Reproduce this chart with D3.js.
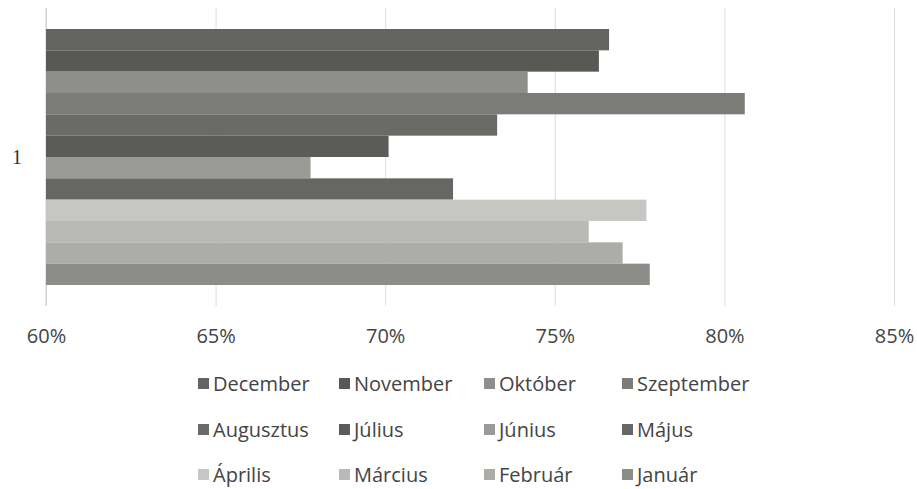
<!DOCTYPE html>
<html>
<head>
<meta charset="utf-8">
<script src="https://cdn.jsdelivr.net/npm/d3@7"></script>
<style>
  body { margin: 0; background: #fff; }
  svg { display: block; }
</style>
</head>
<body>
<svg id="chart" width="917" height="489"></svg>
<script>
// series top to bottom, same order as the legend
var months = ["December", "November", "Október", "Szeptember", "Augusztus", "Július",
              "Június", "Május", "Április", "Március", "Február", "Január"];
var values = [0.766, 0.763, 0.742, 0.806, 0.733, 0.701, 0.678, 0.720, 0.777, 0.760, 0.770, 0.778];
var colors = ["#646461", "#585855", "#8e8e8a", "#7b7b78", "#6a6a67", "#5b5b58",
              "#9a9a97", "#666663", "#c6c6c3", "#b9b9b6", "#acaca9", "#8c8c89"];
var categories = ["1"];
var xTicks = [0.60, 0.65, 0.70, 0.75, 0.80, 0.85];

var svg = d3.select("#chart"),
    margin = {top: 8, left: 46, right: 23, bottom: 183},
    width = 917 - margin.left - margin.right,
    height = 489 - margin.top - margin.bottom,
    g = svg.append("g").attr("transform", "translate(" + margin.left + "," + margin.top + ")");

var x = d3.scaleLinear().domain([0.60, 0.85]).range([0, width]);

var y0 = d3.scaleBand().domain(categories).range([0, height]).paddingInner(0).paddingOuter(0.082);
var y1 = d3.scaleBand().domain(months).range([0, y0.bandwidth()]).padding(0);

var color = d3.scaleOrdinal().domain(months).range(colors);

// gridlines + tick labels
var xAxis = g.append("g")
    .attr("transform", "translate(0," + height + ")")
    .call(d3.axisBottom(x).tickValues(xTicks).tickSize(-height).tickFormat(d3.format(".0%")));
xAxis.select(".domain").remove();
xAxis.selectAll("line").attr("stroke", "#dcdcdc");
xAxis.selectAll("text")
    .attr("dy", 0)
    .attr("y", 37)
    .attr("fill", "#444")
    .style("font-family", "'Open Sans', sans-serif")
    .style("font-size", "20px");

// left axis line
g.append("line")
    .attr("x1", 0).attr("x2", 0)
    .attr("y1", 0).attr("y2", height)
    .attr("stroke", "#cfcfcf");

// category label
g.selectAll(".cat")
    .data(categories)
    .enter().append("text")
    .attr("class", "cat")
    .attr("x", -29)
    .attr("y", function(d) { return y0(d) + y0.bandwidth() / 2; })
    .attr("dy", "0.35em")
    .attr("text-anchor", "middle")
    .attr("fill", "#333")
    .style("font-family", "'Liberation Serif', serif")
    .style("font-size", "20px")
    .text(function(d) { return d; });

// bars
g.selectAll(".cat-group")
    .data(categories)
    .enter().append("g")
    .attr("transform", function(d) { return "translate(0," + y0(d) + ")"; })
    .selectAll("rect")
    .data(months.map(function(m, i) { return {month: m, value: values[i]}; }))
    .enter().append("rect")
    .attr("x", x(0.60))
    .attr("y", function(d) { return y1(d.month); })
    .attr("width", function(d) { return x(d.value) - x(0.60); })
    .attr("height", y1.bandwidth())
    .attr("fill", function(d) { return color(d.month); });

// legend, 4 columns x 3 rows
var legendX = [198, 339, 484, 622],
    legendY = [384, 430, 475];

var legend = svg.selectAll(".legend")
    .data(months)
    .enter().append("g")
    .attr("class", "legend")
    .attr("transform", function(d, i) {
        return "translate(" + legendX[i % 4] + "," + legendY[Math.floor(i / 4)] + ")";
    });

legend.append("rect")
    .attr("x", 0).attr("y", -6)
    .attr("width", 11).attr("height", 11)
    .attr("fill", function(d) { return color(d); });

legend.append("text")
    .attr("x", 15)
    .attr("dy", "0.35em")
    .attr("fill", "#444")
    .style("font-family", "'Open Sans', sans-serif")
    .style("font-size", "20px")
    .text(function(d) { return d; });
</script>
</body>
</html>
